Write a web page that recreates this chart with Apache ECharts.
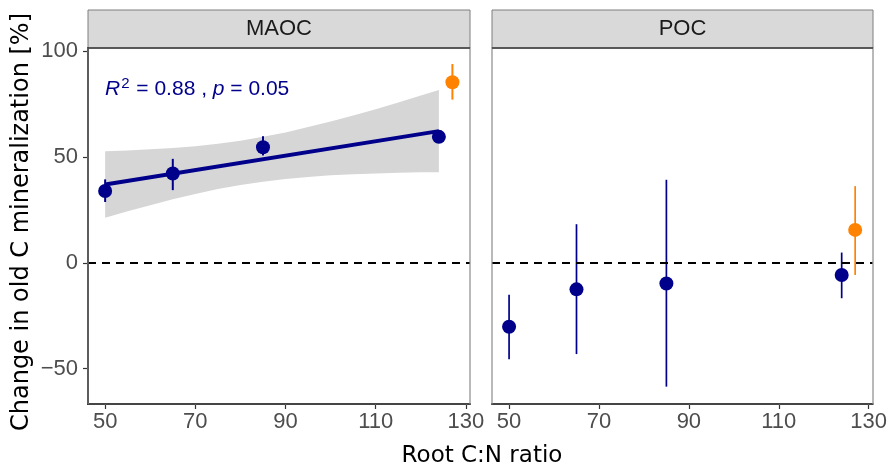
<!DOCTYPE html>
<html><head><meta charset="utf-8">
<script src="https://cdn.jsdelivr.net/npm/echarts@6/dist/echarts.min.js"></script>
<style>html,body{margin:0;padding:0;background:#fff}#c{width:890px;height:468px}</style>
</head><body><div id="c"></div>
<script>
// ---- data ----
const panels = ['MAOC', 'POC'];
const xTicks = [50, 70, 90, 110, 130];
const yTicks = [-50, 0, 50, 100];
const rootCN = [50, 65, 85, 124];
const maocMean = [34.0, 42.3, 54.7, 59.6];
const maocLow  = [28.8, 34.4, 50.8, 57.9];
const maocHigh = [39.5, 49.2, 59.9, 61.3];
const pocMean = [-30.2, -12.5, -9.7, -5.7];
const pocLow  = [-45.6, -43.1, -58.5, -16.7];
const pocHigh = [-15.1, 18.3, 39.3, 4.9];
const refCN = [127];
const maocRefMean = [85.4];
const maocRefLow  = [77.2];
const maocRefHigh = [94.0];
const pocRefMean = [15.6];
const pocRefLow  = [-5.7];
const pocRefHigh = [36.3];
const fitX = [50, 124];
const fitY = [37.1, 62.3];
const bandX    = [50, 55, 60, 65, 70, 75, 80, 85, 90, 95, 100, 105, 110, 115, 120, 124];
const bandLow  = [21.3, 24.4, 27.3, 30.1, 32.6, 34.9, 36.8, 38.4, 39.7, 40.6, 41.4, 41.9, 42.3, 42.6, 42.9, 42.9];
const bandHigh = [52.8, 53.2, 53.7, 54.3, 55.2, 56.3, 57.8, 59.6, 61.7, 64.2, 66.9, 69.7, 72.7, 75.8, 79.1, 81.7];

// ---- styles ----
const NAVY = '#00008B';
const ORANGE = '#FF8200';
const TICKFONT = 'Liberation Sans, Arial, sans-serif';
const TITLEFONT = 'DejaVu Sans, Verdana, sans-serif';

const chart = echarts.init(document.getElementById('c'), null, {renderer: 'canvas'});

const grids = [
  {left: 88, top: 48, width: 382, height: 356},
  {left: 492, top: 48, width: 381, height: 356}
];

function fmt(v) { return v < 0 ? '\u2212' + Math.abs(v) : String(v); }

function xAxisFor(i) {
  return {
    type: 'value', gridIndex: i, min: 46.2, max: 130.9,
    splitLine: {show: false},
    axisLine: {show: true, onZero: false, lineStyle: {color: '#000', width: 1.8}},
    axisTick: {show: true, length: 5, customValues: xTicks, lineStyle: {color: '#333', width: 1.2}},
    axisLabel: {show: true, margin: 7, customValues: xTicks, formatter: fmt, color: '#4D4D4D', fontSize: 22, fontFamily: TICKFONT}
  };
}
function yAxisFor(i) {
  return {
    type: 'value', gridIndex: i, min: -66.7, max: 101.6,
    splitLine: {show: false},
    axisLine: {show: i === 0, onZero: false, lineStyle: {color: '#000', width: 1.8}},
    axisTick: {show: i === 0, length: 5, customValues: yTicks, lineStyle: {color: '#333', width: 1.2}},
    axisLabel: {show: i === 0, margin: 10, customValues: yTicks, formatter: fmt, color: '#4D4D4D', fontSize: 22, fontFamily: TICKFONT}
  };
}

function errSeries(i, xs, lo, hi, color, w, z) {
  return {
    type: 'custom', xAxisIndex: i, yAxisIndex: i, z: z,
    data: xs.map((x, k) => [x, lo[k], hi[k]]),
    encode: {x: 0, y: [1, 2]},
    renderItem: function (params, api) {
      const a = api.coord([api.value(0), api.value(1)]);
      const b = api.coord([api.value(0), api.value(2)]);
      return {type: 'line', shape: {x1: a[0], y1: a[1], x2: b[0], y2: b[1]},
              style: {stroke: color, lineWidth: w}};
    },
    silent: true
  };
}
function ptSeries(i, xs, ys, color, z) {
  return {
    type: 'scatter', xAxisIndex: i, yAxisIndex: i, z: z,
    data: xs.map((x, k) => [x, ys[k]]),
    symbol: 'circle', symbolSize: 14,
    itemStyle: {color: color, opacity: 1},
    silent: true
  };
}

const series = [];
// confidence band (MAOC)
series.push({
  type: 'custom', xAxisIndex: 0, yAxisIndex: 0, z: 1,
  data: bandX.map((x, k) => [x, bandLow[k], bandHigh[k]]),
  encode: {x: 0, y: [1, 2]},
  renderItem: function (params, api) {
    if (params.dataIndex !== 0) return null;
    const pts = [];
    for (let k = 0; k < bandX.length; k++) pts.push(api.coord([bandX[k], bandHigh[k]]));
    for (let k = bandX.length - 1; k >= 0; k--) pts.push(api.coord([bandX[k], bandLow[k]]));
    return {type: 'polygon', shape: {points: pts}, style: {fill: '#D6D6D6'}};
  },
  silent: true
});
// zero reference lines
[0, 1].forEach(i => {
  series.push({
    type: 'line', xAxisIndex: i, yAxisIndex: i, z: 2, data: [],
    markLine: {
      silent: true, symbol: ['none', 'none'], label: {show: false},
      lineStyle: {color: '#000', type: [8, 6], width: 1.8},
      data: [{yAxis: 0}]
    }
  });
});
// regression line
series.push({
  type: 'line', xAxisIndex: 0, yAxisIndex: 0, z: 3,
  data: fitX.map((x, k) => [x, fitY[k]]),
  symbol: 'none', lineStyle: {color: NAVY, width: 4}, silent: true
});
// MAOC
series.push(errSeries(0, rootCN, maocLow, maocHigh, NAVY, 2, 4));
series.push(ptSeries(0, rootCN, maocMean, NAVY, 5));
series.push(errSeries(0, refCN, maocRefLow, maocRefHigh, ORANGE, 2, 4));
series.push(ptSeries(0, refCN, maocRefMean, ORANGE, 5));
// POC
series.push(errSeries(1, rootCN, pocLow, pocHigh, NAVY, 1.7, 4));
series.push(ptSeries(1, rootCN, pocMean, NAVY, 5));
series.push(errSeries(1, refCN, pocRefLow, pocRefHigh, ORANGE, 1.7, 4));
series.push(ptSeries(1, refCN, pocRefMean, ORANGE, 5));

// graphics: panel borders, strips, titles, annotation
const graphic = [];
grids.forEach((g, i) => {
  graphic.push({type: 'rect', z: 0, silent: true,
    shape: {x: g.left, y: 10, width: g.width, height: 38},
    style: {fill: '#D9D9D9', stroke: '#7F7F7F', lineWidth: 1}});
  graphic.push({type: 'rect', z: 50, silent: true,
    shape: {x: g.left, y: g.top, width: g.width, height: g.height},
    style: {fill: 'none', stroke: '#8A8A8A', lineWidth: 1.2}});
  graphic.push({type: 'line', z: 51, silent: true,
    shape: {x1: g.left, y1: 48, x2: g.left + g.width, y2: 48},
    style: {stroke: '#404040', lineWidth: 1.5}});
  graphic.push({type: 'text', z: 52, silent: true,
    x: g.left + g.width / 2, y: 29,
    style: {text: panels[i], fill: '#1A1A1A', fontSize: 22, fontFamily: TICKFONT,
            align: 'center', verticalAlign: 'middle'}});
});
graphic.push({type: 'text', z: 52, silent: true, x: 482, y: 456,
  style: {text: 'Root C:N ratio', fill: '#000', fontSize: 23, fontFamily: TITLEFONT,
          align: 'center', verticalAlign: 'middle'}});
graphic.push({type: 'text', z: 52, silent: true, x: 22, y: 222, rotation: Math.PI / 2,
  style: {text: 'Change in old C mineralization [%]', fill: '#000', fontSize: 24, fontFamily: TITLEFONT,
          align: 'center', verticalAlign: 'middle'}});
graphic.push({type: 'text', z: 52, silent: true, x: 105, y: 89,
  style: {text: '{i|R}{s|2} = 0.88 , {i|p} = 0.05',
          rich: {
            i: {fontStyle: 'italic', fill: NAVY, fontSize: 21, fontFamily: TICKFONT},
            s: {fill: NAVY, fontSize: 15, fontFamily: TICKFONT, padding: [0, 1, 10, 1]}
          },
          fill: NAVY, fontSize: 21, fontFamily: TICKFONT, align: 'left', verticalAlign: 'middle'}});

chart.setOption({
  animation: false,
  backgroundColor: '#fff',
  grid: grids,
  xAxis: [xAxisFor(0), xAxisFor(1)],
  yAxis: [yAxisFor(0), yAxisFor(1)],
  series: series,
  graphic: graphic
});
</script>
</body></html>
